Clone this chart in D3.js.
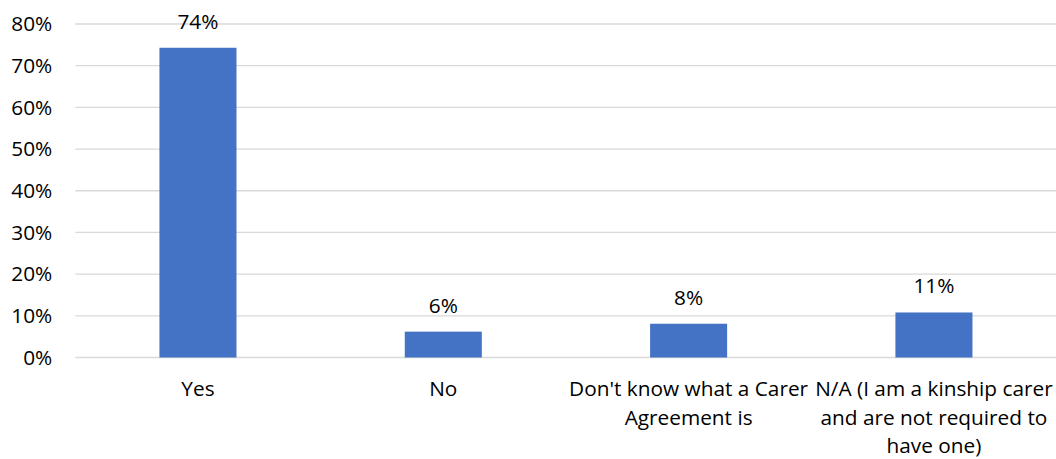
<!DOCTYPE html>
<html>
<head>
<meta charset="utf-8">
<script src="https://cdn.jsdelivr.net/npm/d3@7"></script>
<style>
  body { margin: 0; background: #fff; }
  svg { display: block; font-family: "Open Sans", sans-serif; }
</style>
</head>
<body>
<svg id="chart" width="1056" height="459"></svg>
<script>
// chart data
const categories = ["Yes", "No", "Don't know what a Carer Agreement is", "N/A (I am a kinship carer and are not required to have one)"];
const categoryLines = [
  ["Yes"],
  ["No"],
  ["Don't know what a Carer", "Agreement is"],
  ["N/A (I am a kinship carer", "and are not required to", "have one)"]
];
const values = [0.743, 0.062, 0.081, 0.108];
const valueLabels = ["74%", "6%", "8%", "11%"];
const yTicks = [0, 0.1, 0.2, 0.3, 0.4, 0.5, 0.6, 0.7, 0.8];

const width = 1056;
const height = 459;
const margin = { top: 24, right: 0, bottom: 101.5, left: 75.3 };
const fontSize = 20.8;

const svg = d3.select("#chart");

const x = d3
  .scaleBand()
  .domain(categories)
  .range([margin.left, 1056.6])
  .paddingInner(0.686)
  .paddingOuter(0.343);

const y = d3
  .scaleLinear()
  .domain([0, 0.8])
  .range([height - margin.bottom, margin.top]);

// gridlines
svg
  .append("g")
  .selectAll("line")
  .data(yTicks)
  .join("line")
  .attr("x1", margin.left)
  .attr("x2", width)
  .attr("y1", d => y(d))
  .attr("y2", d => y(d))
  .attr("stroke", "#d9d9d9")
  .attr("stroke-width", 1.3);

// y axis labels
const yAxis = d3
  .axisLeft(y)
  .tickValues(yTicks)
  .tickFormat(d3.format(".0%"))
  .tickSize(0)
  .tickPadding(0);

svg
  .append("g")
  .attr("transform", `translate(${margin.left - 23},0)`)
  .call(yAxis)
  .call(g => g.select(".domain").remove())
  .selectAll("text")
  .attr("font-size", fontSize)
  .attr("font-family", "Open Sans, sans-serif")
  .attr("fill", "#000");

// bars
svg
  .append("g")
  .selectAll("rect")
  .data(values)
  .join("rect")
  .attr("x", (d, i) => x(categories[i]))
  .attr("width", x.bandwidth())
  .attr("y", d => y(d))
  .attr("height", d => y(0) - y(d))
  .attr("fill", "#4472c4");

// value labels
svg
  .append("g")
  .selectAll("text")
  .data(values)
  .join("text")
  .attr("x", (d, i) => x(categories[i]) + x.bandwidth() / 2)
  .attr("y", d => y(d) - 19)
  .attr("text-anchor", "middle")
  .attr("font-size", fontSize)
  .attr("fill", "#000")
  .text((d, i) => valueLabels[i]);

// category labels
const catG = svg
  .append("g")
  .selectAll("text")
  .data(categories)
  .join("text")
  .attr("x", d => x(d) + x.bandwidth() / 2)
  .attr("y", 396)
  .attr("text-anchor", "middle")
  .attr("font-size", fontSize)
  .attr("fill", "#000");

catG
  .selectAll("tspan")
  .data((d, i) => categoryLines[i])
  .join("tspan")
  .attr("x", function () {
    return d3.select(this.parentNode).attr("x");
  })
  .attr("dy", (d, i) => (i === 0 ? 0 : 28.5))
  .text(d => d);
</script>
</body>
</html>
